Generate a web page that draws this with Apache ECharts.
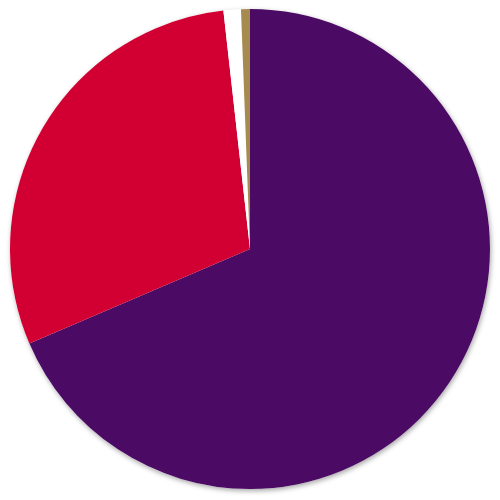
<!DOCTYPE html>
<html>
<head>
<meta charset="utf-8">
<script src="https://cdn.jsdelivr.net/npm/echarts@6/dist/echarts.min.js"></script>
<style>
html, body { margin: 0; padding: 0; background: #fff; }
#chart { width: 500px; height: 500px; }
</style>
</head>
<body>
<div id="chart"></div>
<script>
// slice shares, clockwise from 12 o'clock
const sliceNames = ['Purple', 'Red', 'White', 'Gold'];
const sliceValues = [68.55, 29.67, 1.17, 0.6];
const sliceColors = ['#4b0a64', '#d20032', '#ffffff', '#a68a50'];

const chart = echarts.init(document.getElementById('chart'));
const total = sliceValues.reduce((a, b) => a + b, 0);

chart.setOption({
	animation: false,
	series: [
		{
			// soft grey rim under the pie
			type: 'pie', silent: true, center: [250, 249], radius: 240,
			label: { show: false }, labelLine: { show: false },
			itemStyle: { color: '#fff', shadowBlur: 5, shadowColor: 'rgba(0,0,0,0.35)', shadowOffsetX: 1, shadowOffsetY: 2 },
			data: [{ name: 'all', value: total }]
		},
		{
			type: 'pie', center: [250, 249], radius: 240, startAngle: 90, clockwise: true,
			label: { show: false }, labelLine: { show: false },
			itemStyle: { borderWidth: 0 },
			data: sliceNames.map((name, i) => ({ name, value: sliceValues[i], itemStyle: { color: sliceColors[i] } }))
		}
	]
});
</script>
</body>
</html>
